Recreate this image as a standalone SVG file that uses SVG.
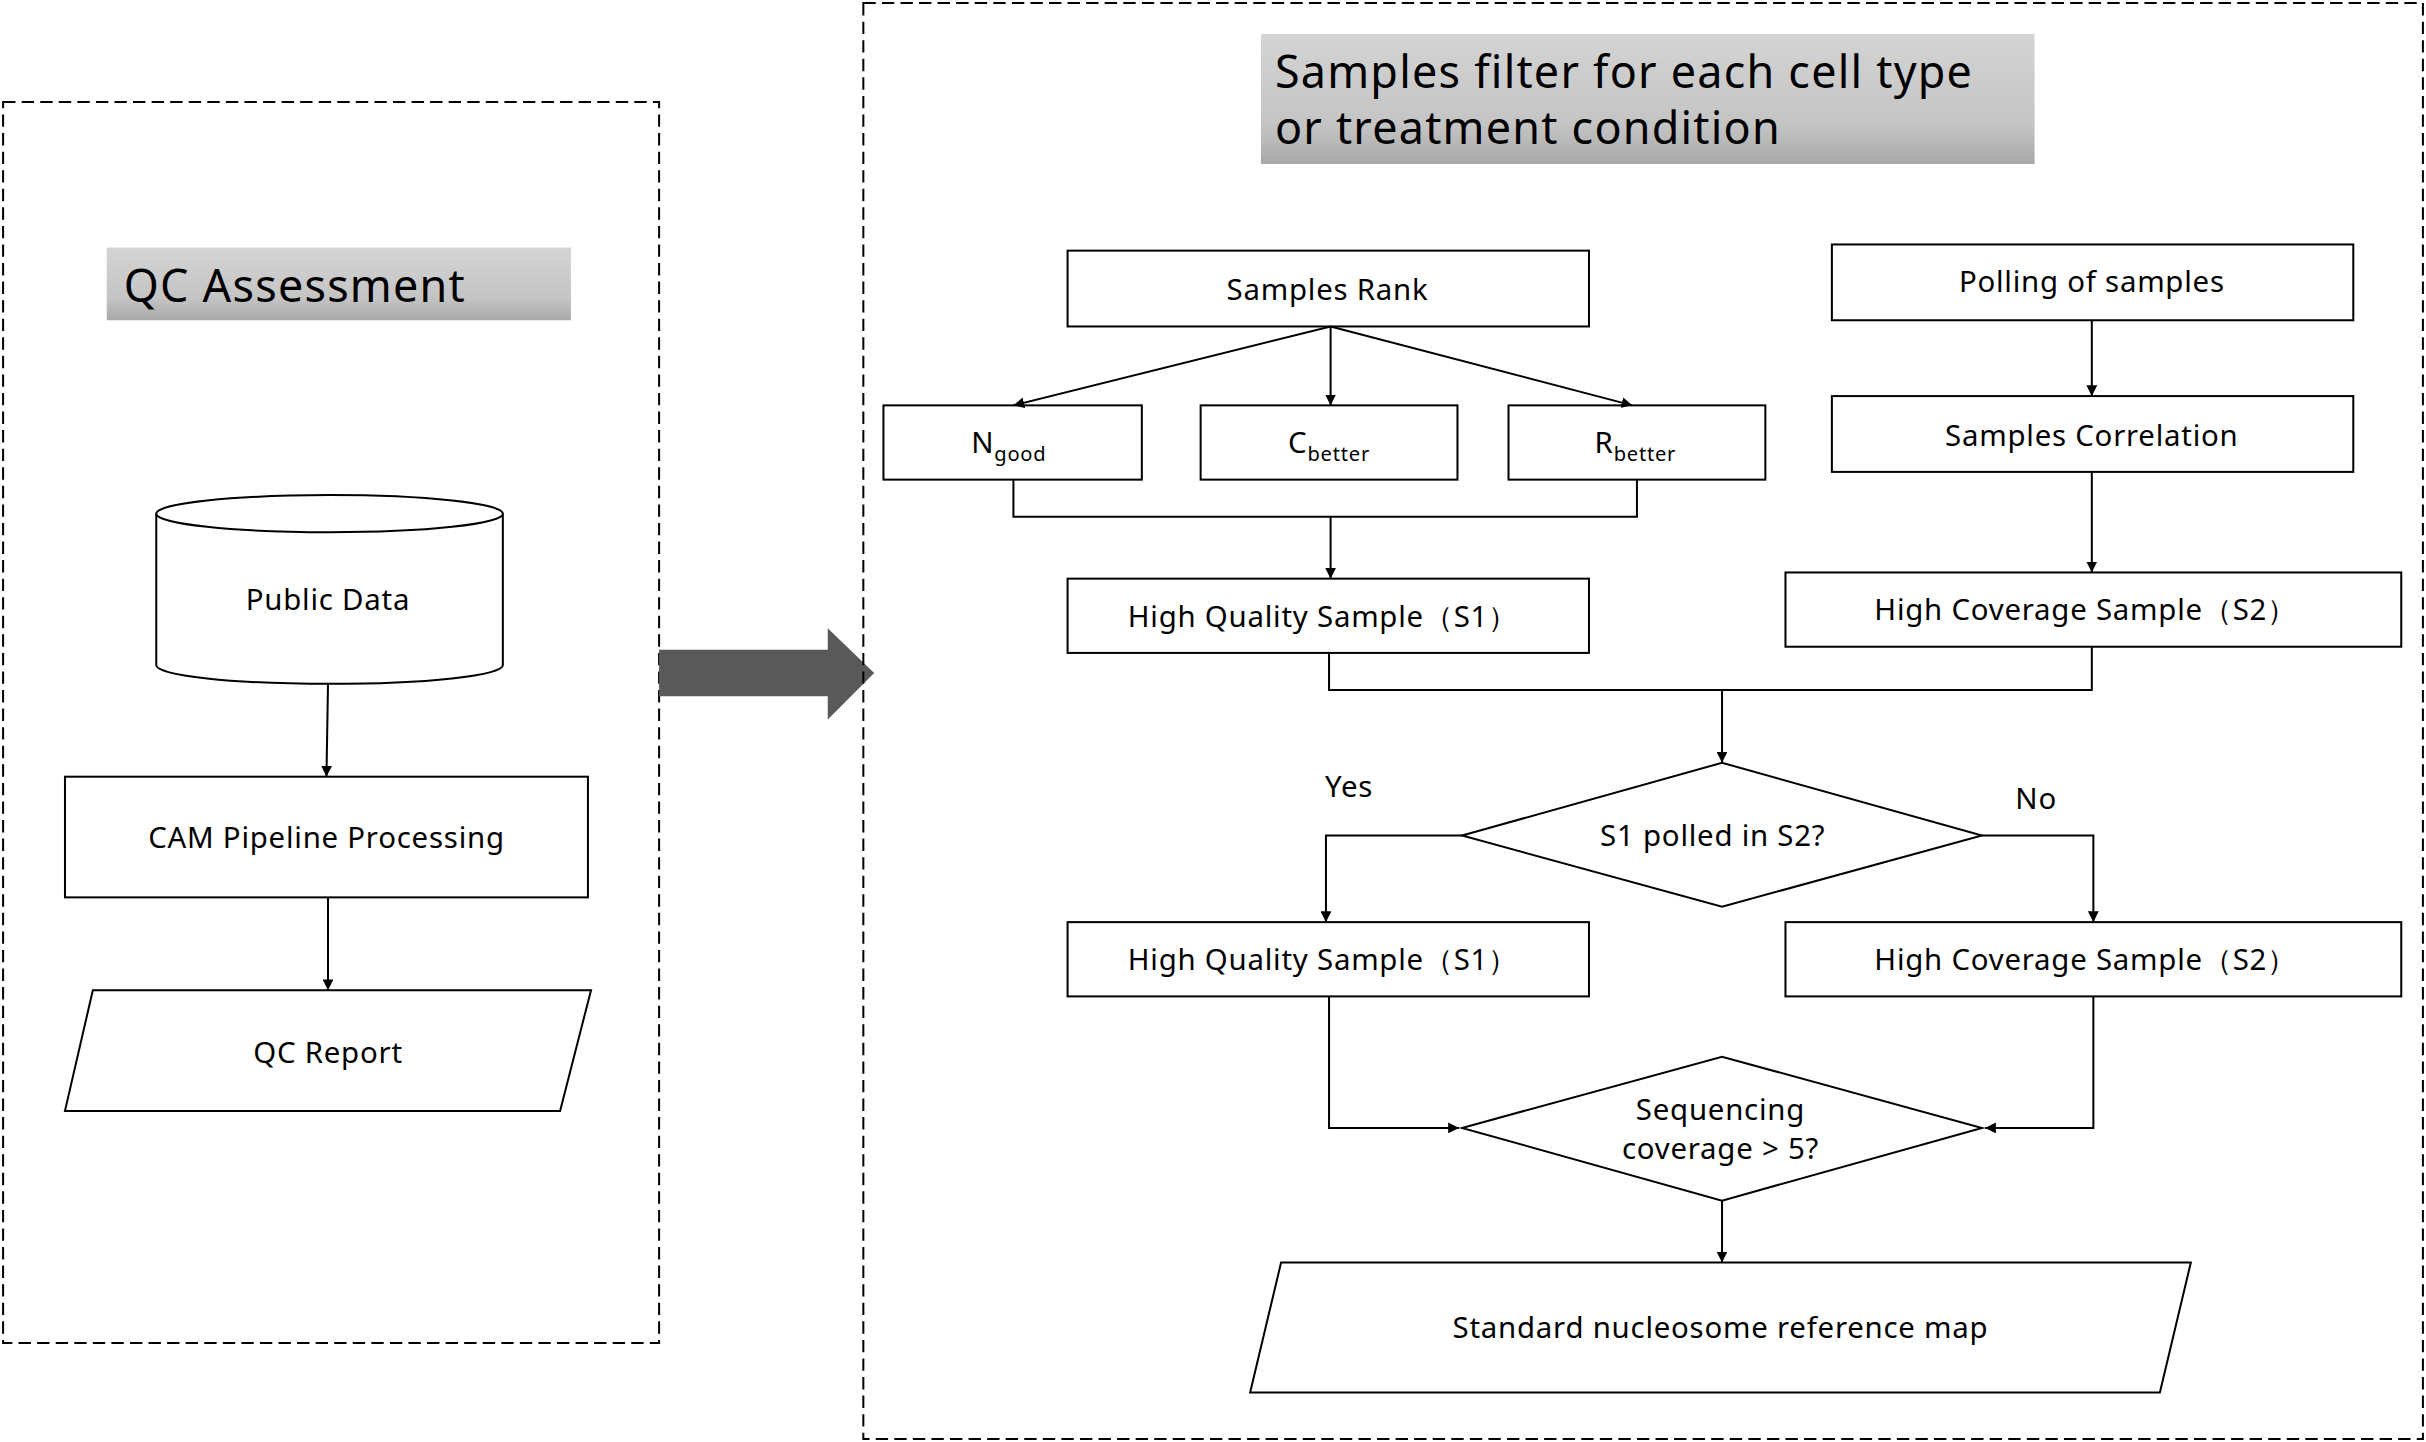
<svg xmlns="http://www.w3.org/2000/svg" width="2426" height="1442" viewBox="0 0 2426 1442">
<defs>
<linearGradient id="lg" x1="0" y1="0" x2="0" y2="1"><stop offset="0" stop-color="#d4d4d4"/><stop offset="0.7" stop-color="#c4c4c4"/><stop offset="1" stop-color="#a8a8a8"/></linearGradient>
<marker id="ah" viewBox="0 0 10 10" refX="10" refY="5" markerWidth="7" markerHeight="7" markerUnits="userSpaceOnUse" orient="auto"><path d="M0,0 L10,5 L0,10 z" fill="#000"/></marker>
</defs>
<style>
.dash{fill:none;stroke:#000;stroke-width:1.3;stroke-dasharray:8,4}
.n{fill:#fff;stroke:#000;stroke-width:1.3}
.t{font-family:"Noto Sans","DejaVu Sans",sans-serif;font-size:19px;fill:#000;text-anchor:middle;letter-spacing:0.5px}
.big{font-family:"Noto Sans","DejaVu Sans",sans-serif;font-size:29px;fill:#000;letter-spacing:0.8px}
.c{fill:none;stroke:#000;stroke-width:1.3}
.ca{fill:none;stroke:#000;stroke-width:1.3;marker-end:url(#ah)}
</style>
<rect width="2426" height="1442" fill="#fff"/>
<g transform="scale(1.5472)">
<g id="left-panel">
<rect class="dash" x="2" y="66" width="424" height="802"/>
<rect x="69" y="160" width="300" height="47" fill="url(#lg)"/>
<text class="big" x="80" y="195">QC Assessment</text>
</g>
<g id="public-data">
<path class="n" d="M101,332 L101,430 A112,12 0 0 0 325,430 L325,332"/>
<ellipse class="n" cx="213" cy="332" rx="112" ry="12"/>
<text class="t" x="212" y="394">Public Data</text>
</g>
<g id="cam"><rect class="n" x="42" y="502" width="338" height="78"/><text class="t" x="211" y="548">CAM Pipeline Processing</text></g>
<g id="qc-report"><polygon class="n" points="60,640 382,640 362,718 42,718"/><text class="t" x="212" y="687">QC Report</text></g>
<g id="big-arrow"><polygon points="426,420 535,420 535,406 565,435 535,465 535,450 426,450" fill="#595959"/></g>
<g id="right-panel">
<rect class="dash" x="558" y="2" width="1008" height="928"/>
<rect x="815" y="22" width="500" height="84" fill="url(#lg)"/>
<text class="big" x="824" y="57">Samples filter for each cell type</text>
<text class="big" x="824" y="93">or treatment condition</text>
</g>
<g id="samples-rank"><rect class="n" x="690" y="162" width="337" height="49"/><text class="t" x="858" y="194">Samples Rank</text></g>
<g id="ngood"><rect class="n" x="571" y="262" width="167" height="48"/><text class="t" x="652" y="293">N<tspan font-size="13" dy="5">good</tspan></text></g>
<g id="cbetter"><rect class="n" x="776" y="262" width="166" height="48"/><text class="t" x="859" y="293">C<tspan font-size="13" dy="5">better</tspan></text></g>
<g id="rbetter"><rect class="n" x="975" y="262" width="166" height="48"/><text class="t" x="1057" y="293">R<tspan font-size="13" dy="5">better</tspan></text></g>
<g id="hq1"><rect class="n" x="690" y="374" width="337" height="48"/><text class="t" x="855" y="405">High Quality Sample（S1）</text></g>
<g id="polling"><rect class="n" x="1184" y="158" width="337" height="49"/><text class="t" x="1352" y="189">Polling of samples</text></g>
<g id="corr"><rect class="n" x="1184" y="256" width="337" height="49"/><text class="t" x="1352" y="288">Samples Correlation</text></g>
<g id="hc1"><rect class="n" x="1154" y="370" width="398" height="48"/><text class="t" x="1348" y="401">High Coverage Sample（S2）</text></g>
<g id="d1"><polygon class="n" points="945,540 1113,493 1281,540 1113,586"/><text class="t" x="1107" y="547">S1 polled in S2?</text></g>
<g id="hq2"><rect class="n" x="690" y="596" width="337" height="48"/><text class="t" x="855" y="627">High Quality Sample（S1）</text></g>
<g id="hc2"><rect class="n" x="1154" y="596" width="398" height="48"/><text class="t" x="1348" y="627">High Coverage Sample（S2）</text></g>
<g id="d2"><polygon class="n" points="945,729 1113,683 1281,729 1113,776"/><text class="t" x="1112" y="724">Sequencing</text><text class="t" x="1112" y="749">coverage &gt; 5?</text></g>
<g id="final"><polygon class="n" points="828,816 1416,816 1396,900 808,900"/><text class="t" x="1112" y="865">Standard nucleosome reference map</text></g>
<g id="connectors">
<line class="ca" x1="212" y1="442" x2="211" y2="502"/>
<line class="ca" x1="212" y1="580" x2="212" y2="640"/>
<line class="ca" x1="860" y1="211" x2="655" y2="262"/>
<line class="ca" x1="860" y1="211" x2="860" y2="262"/>
<line class="ca" x1="860" y1="211" x2="1055" y2="262"/>
<polyline class="c" points="655,310 655,334 1058,334 1058,310"/>
<line class="ca" x1="860" y1="334" x2="860" y2="374"/>
<line class="ca" x1="1352" y1="207" x2="1352" y2="256"/>
<line class="ca" x1="1352" y1="305" x2="1352" y2="370"/>
<polyline class="c" points="859,422 859,446 1352,446 1352,418"/>
<line class="ca" x1="1113" y1="446" x2="1113" y2="493"/>
<polyline class="ca" points="945,540 857,540 857,596"/>
<polyline class="ca" points="1281,540 1353,540 1353,596"/>
<polyline class="ca" points="859,644 859,729 943,729"/>
<polyline class="ca" points="1353,644 1353,729 1283,729"/>
<line class="ca" x1="1113" y1="776" x2="1113" y2="816"/>
<text class="t" x="872" y="515">Yes</text>
<text class="t" x="1316" y="523">No</text>
</g>
</g>
</svg>
